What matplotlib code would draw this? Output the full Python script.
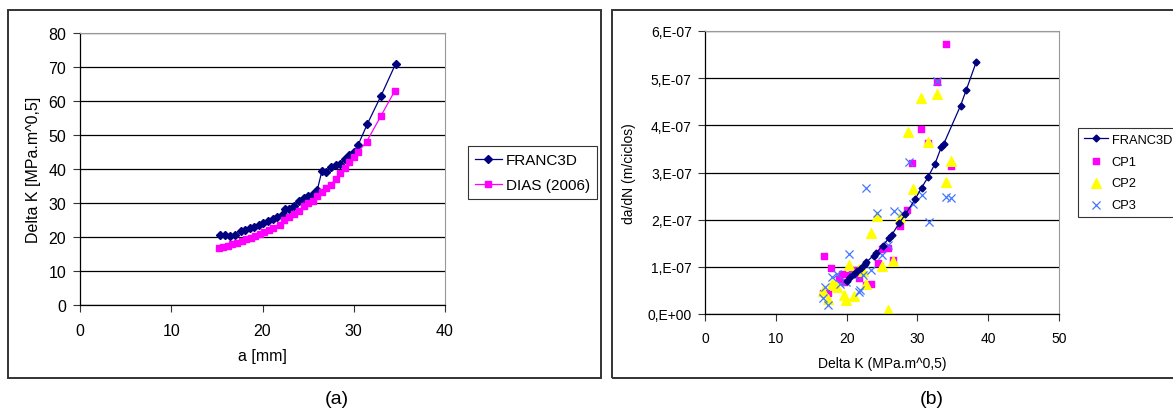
import numpy as np
import matplotlib.pyplot as plt
from matplotlib.patches import Rectangle
from matplotlib.ticker import FuncFormatter

plt.rcParams['font.family'] = ['Liberation Sans', 'DejaVu Sans']

# (a) Delta K vs a
franc_a = [15.3, 15.9, 16.4, 17.0, 17.6, 18.1, 18.6, 19.1, 19.6, 20.1, 20.6, 21.1, 21.6,
           22.2, 22.5, 22.9, 23.5, 24.0, 24.5, 25.0, 25.5, 26.0, 26.5, 27.0, 27.5, 28.0,
           28.5, 29.0, 29.5, 30.0, 30.5, 31.5, 33.0, 34.6]
franc_k = [20.6, 20.5, 20.2, 20.5, 21.8, 22.0, 22.6, 23.0, 23.6, 24.1, 24.6, 25.3, 26.0,
           26.7, 28.2, 28.2, 29.0, 30.5, 31.5, 32.0, 32.6, 33.8, 39.3, 39.0, 40.5, 41.1,
           41.6, 42.9, 44.1, 44.9, 47.2, 53.3, 61.6, 71.0]
dias_a = [15.2, 15.7, 16.2, 16.7, 17.2, 17.7, 18.2, 18.7, 19.2, 19.7, 20.2, 20.7, 21.2,
          21.9, 22.4, 22.9, 23.5, 24.0, 24.5, 25.0, 25.5, 26.0, 26.5, 27.0, 27.5, 28.0,
          28.5, 29.0, 29.5, 30.0, 30.5, 31.4, 33.0, 34.5]
dias_k = [16.9, 17.1, 17.4, 17.8, 18.3, 18.8, 19.3, 19.8, 20.3, 20.8, 21.4, 22.0, 22.6,
          23.5, 24.9, 25.8, 26.8, 27.7, 29.0, 29.9, 30.7, 32.0, 33.1, 34.4, 35.3, 37.1,
          38.7, 40.2, 42.0, 43.6, 45.1, 48.0, 55.7, 63.0]

# (b) da/dN vs Delta K  (da/dN in units of 1e-7 m/ciclo)
franc_dk = [20.0, 20.5, 21.0, 21.5, 22.0, 22.6, 22.8, 23.8, 24.2, 25.1, 26.0, 26.4, 27.4,
            28.3, 29.7, 30.6, 31.5, 32.5, 33.4, 33.7, 36.1, 36.9, 38.3]
franc_dadn = [0.70, 0.78, 0.85, 0.92, 0.98, 1.05, 1.10, 1.24, 1.30, 1.45, 1.61, 1.68, 1.92,
              2.11, 2.44, 2.68, 2.90, 3.19, 3.55, 3.60, 4.42, 4.75, 5.34]
cp1_dk = [34.0, 32.8, 30.5, 31.5, 29.3, 34.7, 28.6, 27.6, 25.0, 25.9, 26.6, 24.4, 23.5,
          22.7, 16.8, 17.8, 18.9, 19.7, 19.4, 20.3, 21.2, 21.7, 16.6, 17.4, 20.8]
cp1_dadn = [5.73, 4.92, 3.93, 3.62, 3.21, 3.14, 2.20, 1.87, 1.38, 1.40, 1.15, 1.08, 0.63,
            0.61, 1.23, 0.97, 0.75, 0.67, 0.85, 0.83, 0.94, 0.77, 0.45, 0.45, 0.88]
cp2_dk = [32.8, 30.5, 28.7, 31.5, 34.8, 34.1, 29.4, 27.6, 24.3, 23.5, 26.6, 25.0, 22.3,
          22.7, 25.9, 16.6, 17.4, 18.0, 18.4, 18.7, 19.6, 19.9, 20.4, 21.0, 21.7]
cp2_dadn = [4.67, 4.59, 3.86, 3.65, 3.25, 2.79, 2.65, 2.06, 2.08, 1.72, 1.13, 1.01, 0.92,
            0.63, 0.09, 0.48, 0.32, 0.64, 0.61, 0.57, 0.41, 0.29, 1.03, 0.39, 0.96]
cp3_dk = [32.8, 28.8, 22.7, 30.6, 29.4, 34.1, 34.8, 24.3, 26.7, 27.8, 31.6, 25.9, 25.0,
          23.5, 22.3, 21.9, 20.4, 16.9, 16.6, 17.4, 18.0, 18.6, 19.1, 19.9, 21.7, 20.9]
cp3_dadn = [4.95, 3.23, 2.68, 2.52, 2.33, 2.49, 2.46, 2.14, 2.19, 2.14, 1.94, 1.47, 1.25,
            0.94, 0.82, 0.50, 1.27, 0.57, 0.34, 0.20, 0.78, 0.85, 0.64, 0.68, 0.47, 0.82]

W, H = 1173, 414
fig = plt.figure(figsize=(W / 100, H / 100), dpi=100)


def px_rect(x0, y0, x1, y1):
    # pixel box (top-left origin) -> figure fraction [l, b, w, h]
    return [x0 / W, 1 - y1 / H, (x1 - x0) / W, (y1 - y0) / H]


# panel frames
for (x0, y0, x1, y1) in [(8, 11, 601, 379), (612, 11, 1180, 379)]:
    l, b, w, h = px_rect(x0, y0, x1, y1)
    fig.patches.append(Rectangle((l, b), w, h, transform=fig.transFigure,
                                 fill=False, edgecolor='#333333', linewidth=1.4))


def style_axes(ax):
    for s in ['top', 'right']:
        ax.spines[s].set_color('#999999')
        ax.spines[s].set_linewidth(0.8)
    for s in ['left', 'bottom']:
        ax.spines[s].set_color('black')
        ax.spines[s].set_linewidth(0.9)
    ax.yaxis.grid(True, color='black', linewidth=0.9)
    ax.set_axisbelow(True)
    ax.tick_params(direction='out', length=5, width=0.8, color='#333333')


# ---- (a) ----
ax1 = fig.add_axes(px_rect(80, 34, 445, 306))
ax1.plot(franc_a, franc_k, color='#000080', marker='D', markersize=4.5, linewidth=0.9,
         label='FRANC3D')
ax1.plot(dias_a, dias_k, color='#FF00FF', marker='s', markersize=5, linewidth=0.9,
         label='DIAS (2006)')
ax1.set_xlim(0, 40)
ax1.set_ylim(0, 80)
ax1.set_xticks([0, 10, 20, 30, 40])
ax1.set_yticks(range(0, 81, 10))
style_axes(ax1)
ax1.tick_params(axis='x', labelsize=11.5, pad=8)
ax1.tick_params(axis='y', labelsize=11.5, pad=5)
ax1.set_xlabel('a [mm]', fontsize=11.5, labelpad=7)
ax1.set_ylabel('Delta K [MPa.m^0,5]', fontsize=11.5, labelpad=5)
leg1 = ax1.legend(loc='center left', bbox_to_anchor=(468 / W, 1 - 173.5 / H),
                  bbox_transform=fig.transFigure, fontsize=11, frameon=True,
                  fancybox=False, edgecolor='black', borderpad=0.45,
                  handlelength=1.75, handletextpad=0.3, labelspacing=0.7, borderaxespad=0)
leg1.get_frame().set_linewidth(0.8)

# ---- (b) ----
ax2 = fig.add_axes(px_rect(705, 32, 1059, 315))
ax2.plot(franc_dk, np.array(franc_dadn) * 1e-7, color='#000080', marker='D', markersize=3.5,
         linewidth=0.9, label='FRANC3D', zorder=3)
ax2.scatter(cp1_dk, np.array(cp1_dadn) * 1e-7, marker='s', s=22, color='#FF00FF',
            label='CP1', zorder=2)
ax2.scatter(cp2_dk, np.array(cp2_dadn) * 1e-7, marker='^', s=48, color='#FFFF00',
            label='CP2', zorder=2)
ax2.scatter(cp3_dk, np.array(cp3_dadn) * 1e-7, marker='x', s=34, color='#4477FF',
            linewidths=0.9, label='CP3', zorder=2)
ax2.set_xlim(0, 50)
ax2.set_ylim(0, 6e-7)
ax2.set_xticks([0, 10, 20, 30, 40, 50])
ax2.set_yticks(np.arange(0, 7) * 1e-7)


def sci_fmt(v, pos):
    if abs(v) < 1e-12:
        return '0,E+00'
    return f'{v * 1e7:.0f},E-07'


ax2.yaxis.set_major_formatter(FuncFormatter(sci_fmt))
style_axes(ax2)
ax2.tick_params(axis='x', labelsize=10, pad=7)
ax2.tick_params(axis='y', labelsize=10, pad=4.5)
ax2.set_xlabel('Delta K (MPa.m^0,5)', fontsize=10, labelpad=8)
ax2.set_ylabel('da/dN (m/ciclos)', fontsize=10, labelpad=8)
leg2 = ax2.legend(loc='center left', bbox_to_anchor=(1078 / W, 1 - 173.5 / H),
                  bbox_transform=fig.transFigure, fontsize=9.3, frameon=True,
                  fancybox=False, edgecolor='black', borderpad=0.45,
                  handlelength=1.9, handletextpad=0.25, labelspacing=0.75, borderaxespad=0)
leg2.get_frame().set_linewidth(0.8)

fig.text(337 / W, 1 - 400 / H, '(a)', ha='center', va='center', fontsize=14)
fig.text(932 / W, 1 - 400 / H, '(b)', ha='center', va='center', fontsize=14)

fig.savefig('out.png', dpi=100)
